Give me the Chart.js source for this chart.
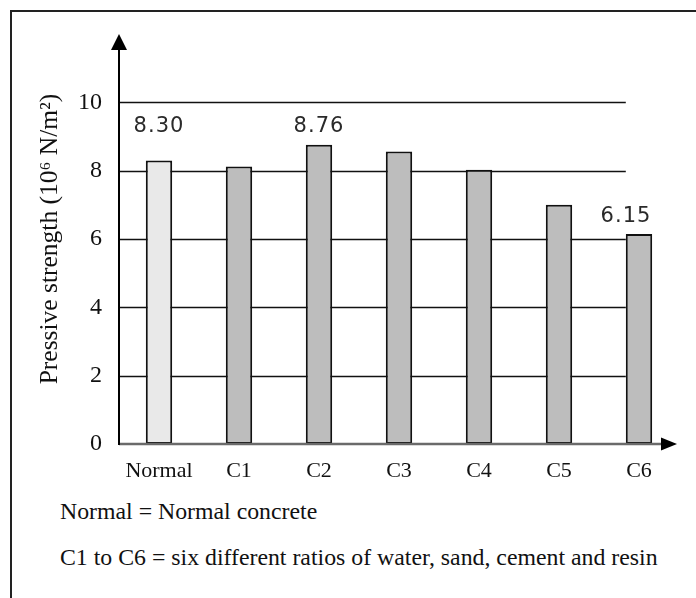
<!DOCTYPE html>
<html>
<head>
<meta charset="utf-8">
<script src="https://cdn.jsdelivr.net/npm/chart.js@4.4.0/dist/chart.umd.min.js"></script>
<style>
    body { margin: 0; background: #fff; }
    #wrap { position: relative; width: 696px; height: 598px; overflow: hidden; }
    #frame { position: absolute; left: 10px; top: 10px; width: 720px; height: 620px;
             border-left: 2px solid #222; border-top: 2px solid #222; }
    #chartBox { position: absolute; left: 0; top: 0; width: 696px; height: 490px; }
    .note { position: absolute; left: 60px; font-family: "Liberation Serif", serif;
            font-size: 23.8px; color: #111; white-space: nowrap; }
</style>
</head>
<body>
<div id="wrap">
    <div id="frame"></div>
    <div id="chartBox"><canvas id="strengthChart" width="696" height="490"></canvas></div>
    <div class="note" style="top:498px">Normal = Normal concrete</div>
    <div class="note" style="top:544px">C1 to C6 = six different ratios of water, sand, cement and resin</div>
</div>

<script>
// Data
const categories = ['Normal', 'C1', 'C2', 'C3', 'C4', 'C5', 'C6'];
const strength = [8.30, 8.12, 8.76, 8.56, 8.03, 7.00, 6.15];
const valueLabels = ['8.30', '', '8.76', '', '', '', '6.15'];
const yTicks = [0, 2, 4, 6, 8, 10];

// Hand-drawn look: grid lines that stop at the last bar, arrows on both axes, value labels
const axesPlugin = {
    id: 'axesPlugin',
    beforeDatasetsDraw(chart) {
        const ctx = chart.ctx;
        const y = chart.scales.y;
        const meta = chart.getDatasetMeta(0);
        const last = meta.data[meta.data.length - 1];
        const gridRight = last.x - last.width / 2;
        ctx.save();
        ctx.strokeStyle = '#111';
        ctx.lineWidth = 1.6;
        yTicks.forEach(v => {
            if (v === 0) return;
            const py = Math.round(y.getPixelForValue(v)) + 0.5;
            ctx.beginPath();
            ctx.moveTo(chart.chartArea.left, py);
            ctx.lineTo(gridRight, py);
            ctx.stroke();
        });
        ctx.restore();
    },
    afterDatasetsDraw(chart) {
        const ctx = chart.ctx;
        const area = chart.chartArea;
        const y = chart.scales.y;
        const y0 = y.getPixelForValue(0);
        ctx.save();

        // x axis (grey) with arrow
        ctx.strokeStyle = '#6a6a6a';
        ctx.lineWidth = 2.5;
        ctx.beginPath();
        ctx.moveTo(area.left, y0);
        ctx.lineTo(area.right - 16, y0);
        ctx.stroke();
        ctx.fillStyle = '#000';
        ctx.beginPath();
        ctx.moveTo(area.right - 18, y0 - 6.5);
        ctx.lineTo(area.right - 2, y0);
        ctx.lineTo(area.right - 18, y0 + 6.5);
        ctx.closePath();
        ctx.fill();

        // y axis (black) with arrow
        ctx.strokeStyle = '#000';
        ctx.lineWidth = 2;
        ctx.beginPath();
        ctx.moveTo(area.left, y0 + 1);
        ctx.lineTo(area.left, area.top + 14);
        ctx.stroke();
        ctx.beginPath();
        ctx.moveTo(area.left - 8, area.top + 16);
        ctx.lineTo(area.left, area.top);
        ctx.lineTo(area.left + 8, area.top + 16);
        ctx.closePath();
        ctx.fill();

        // value labels
        const labelShift = { 0: [0, 34], 2: [0, 18], 6: [-13, 17] };
        const meta = chart.getDatasetMeta(0);
        ctx.font = '21px "DejaVu Sans"';
        ctx.letterSpacing = '1px';
        ctx.fillStyle = '#2a2a2a';
        ctx.textAlign = 'center';
        ctx.textBaseline = 'middle';
        valueLabels.forEach((txt, i) => {
            if (!txt) return;
            const bar = meta.data[i];
            const s = labelShift[i] || [0, 16];
            ctx.fillText(txt, bar.x + s[0], bar.y - s[1]);
        });
        ctx.restore();
    }
};

const ctx = document.getElementById('strengthChart').getContext('2d');
const strengthChart = new Chart(ctx, {
    type: 'bar',
    data: {
        labels: categories,
        datasets: [{
            data: strength,
            backgroundColor: categories.map((c, i) => i === 0 ? '#e9e9e9' : '#bdbdbd'),
            borderColor: '#111',
            borderWidth: 2,
            borderSkipped: false,
            barPercentage: 0.33,
            categoryPercentage: 1
        }]
    },
    options: {
        responsive: false,
        animation: false,
        layout: {
            padding: { top: 34, right: 17, left: 0, bottom: 0 }
        },
        plugins: {
            legend: { display: false },
            tooltip: { enabled: false }
        },
        scales: {
            x: {
                offset: true,
                grid: { display: false },
                border: { display: false },
                ticks: {
                    color: '#111',
                    padding: 6,
                    font: { family: 'Liberation Serif', size: 22 }
                },
                afterFit(scale) { scale.height = 46; }
            },
            y: {
                min: 0,
                max: 12,
                grid: { display: false },
                border: { display: false },
                ticks: {
                    stepSize: 2,
                    color: '#111',
                    padding: 9,
                    font: { family: 'Liberation Serif', size: 24 },
                    callback: v => yTicks.includes(v) ? v : ''
                },
                title: {
                    display: true,
                    text: 'Pressive strength (10\u2076 N/m\u00b2)',
                    color: '#111',
                    padding: { top: 35, bottom: 0 },
                    font: { family: 'Liberation Serif', size: 25.5 }
                },
                afterFit(scale) { scale.width = 119; }
            }
        }
    },
    plugins: [axesPlugin]
});
</script>
</body>
</html>
